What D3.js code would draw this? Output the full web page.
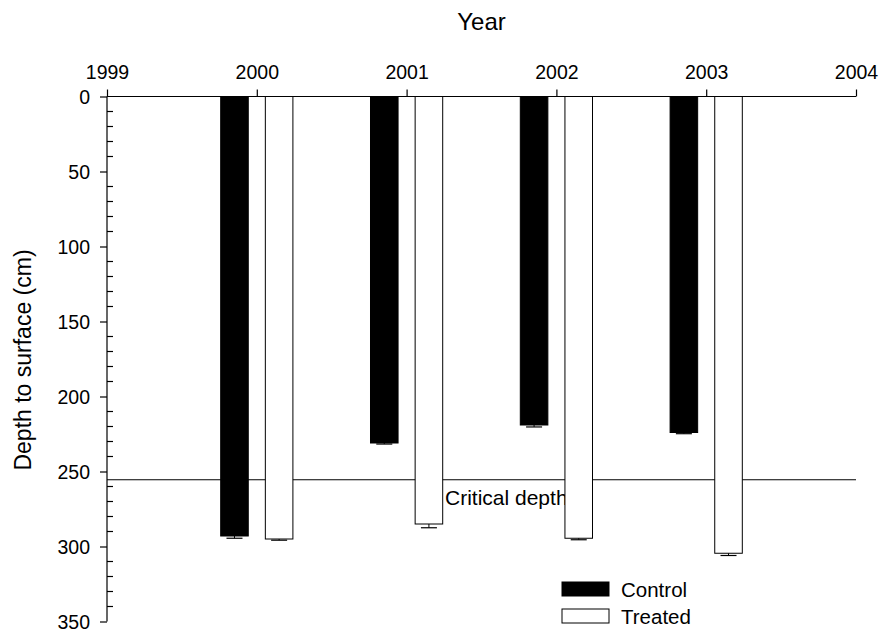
<!DOCTYPE html>
<html>
<head>
<meta charset="utf-8">
<script src="https://cdn.jsdelivr.net/npm/d3@7"></script>
<style>
  html, body { margin: 0; padding: 0; background: #fff; }
  svg text { font-family: Arial, "Liberation Sans", sans-serif; fill: #000; }
</style>
</head>
<body>
<svg id="chart" width="882" height="630"></svg>
<script>
// Depth to surface by year, control vs treated plots
const years = [2000, 2001, 2002, 2003];
const controlDepth = [293, 231, 219, 224];
const controlErr = [1.5, 0.7, 1.3, 0.8];
const treatedDepth = [295, 285, 294.5, 304.5];
const treatedErr = [0.8, 2.5, 1.0, 1.5];
const criticalDepth = 255.5;
const xTicks = [1999, 2000, 2001, 2002, 2003, 2004];
const yTicks = [0, 50, 100, 150, 200, 250, 300, 350];
const seriesNames = ["Control", "Treated"];

const svg = d3.select("#chart");
const plotLeft = 107, plotRight = 856, plotTop = 96.5, plotBottom = 621.5;
const fontStack = "Arial, 'Liberation Sans', sans-serif";

const x = d3.scaleLinear().domain([1999, 2004]).range([plotLeft, plotRight]);
const y = d3.scaleLinear().domain([0, 350]).range([plotTop, plotBottom]);

const barW = x(1999.184) - x(1999);
const offset = 0.149;

// Critical depth reference line and label (drawn beneath the bars)
svg.append("line")
  .attr("x1", x(1999)).attr("x2", x(2004))
  .attr("y1", y(criticalDepth)).attr("y2", y(criticalDepth))
  .attr("stroke", "#000").attr("stroke-width", 1.2);
svg.append("text")
  .attr("x", 445).attr("y", y(criticalDepth) + 25.5)
  .attr("font-size", 21)
  .text("Critical depth");

// Bars with downward error bars
function drawSeries(vals, errs, shift, fill) {
  const g = svg.append("g");
  years.forEach((yr, i) => {
    const cx = x(yr + shift);
    g.append("rect")
      .attr("x", cx - barW / 2).attr("y", y(0))
      .attr("width", barW).attr("height", y(vals[i]) - y(0))
      .attr("fill", fill).attr("stroke", "#000").attr("stroke-width", 1);
    const ye = y(vals[i] + errs[i]);
    g.append("line")
      .attr("x1", cx).attr("x2", cx)
      .attr("y1", y(vals[i])).attr("y2", ye)
      .attr("stroke", "#000").attr("stroke-width", 1);
    g.append("line")
      .attr("x1", cx - 8).attr("x2", cx + 8)
      .attr("y1", ye).attr("y2", ye)
      .attr("stroke", "#000").attr("stroke-width", 1.2);
  });
}
drawSeries(controlDepth, controlErr, -offset, "#000");
drawSeries(treatedDepth, treatedErr, offset, "#fff");

// Top x axis
const xAxis = d3.axisTop(x).tickValues(xTicks).tickFormat(d3.format("d"))
  .tickSize(7).tickPadding(11);
const gx = svg.append("g").attr("transform", `translate(0,${plotTop})`).call(xAxis);
gx.select(".domain").attr("d", `M${plotLeft},0H${plotRight}`).attr("stroke-width", 1.2);
gx.selectAll("text").attr("font-size", 19.5).attr("dy", 0).attr("font-family", fontStack);
gx.selectAll(".tick line").attr("stroke-width", 1.2);

// Left y axis with outward major ticks
const yAxis = d3.axisLeft(y).tickValues(yTicks).tickSize(7).tickPadding(10);
const gy = svg.append("g").attr("transform", `translate(${plotLeft},0)`).call(yAxis);
gy.select(".domain").attr("d", `M0,${plotTop}V${plotBottom}`).attr("stroke-width", 1.2);
gy.selectAll("text").attr("font-size", 19.5).attr("dy", "0.34em").attr("font-family", fontStack);
gy.selectAll(".tick line").attr("stroke-width", 1.2);

// Inward minor ticks every 10 cm
const minor = d3.range(10, 350, 10).filter(v => v % 50 !== 0);
svg.append("g").selectAll("line").data(minor).join("line")
  .attr("x1", plotLeft).attr("x2", plotLeft + 6)
  .attr("y1", d => y(d)).attr("y2", d => y(d))
  .attr("stroke", "#000").attr("stroke-width", 1.2);

// Axis titles
svg.append("text")
  .attr("x", 481.5).attr("y", 30)
  .attr("text-anchor", "middle").attr("font-size", 24)
  .text("Year");
svg.append("text")
  .attr("transform", `translate(31,360) rotate(-90)`)
  .attr("text-anchor", "middle").attr("font-size", 23)
  .text("Depth to surface (cm)");

// Legend
const legend = svg.append("g");
seriesNames.forEach((name, i) => {
  const ly = 582 + i * 27;
  legend.append("rect")
    .attr("x", 562).attr("y", ly).attr("width", 47).attr("height", 14)
    .attr("fill", i === 0 ? "#000" : "#fff").attr("stroke", "#000").attr("stroke-width", 1);
  legend.append("text")
    .attr("x", 621).attr("y", ly + 14.5).attr("font-size", 20.5)
    .text(name);
});
</script>
</body>
</html>
